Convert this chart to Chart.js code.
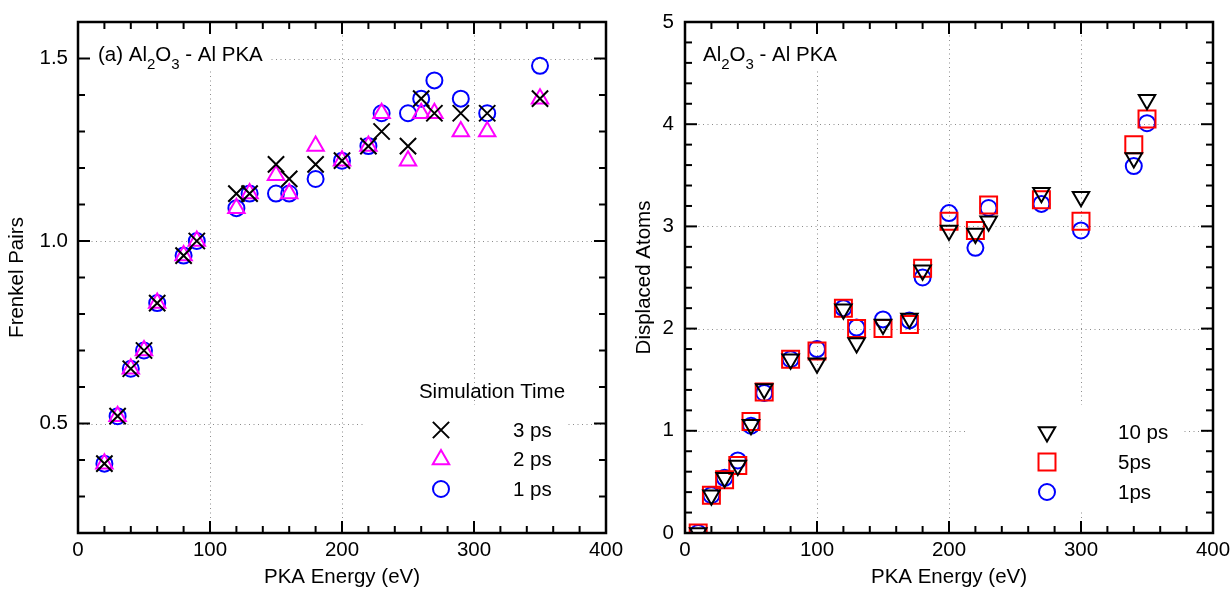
<!DOCTYPE html>
<html>
<head>
<meta charset="utf-8">
<script src="https://cdn.jsdelivr.net/npm/chart.js@4/dist/chart.umd.min.js"></script>
<style>
  body { margin: 0; background: #fff; width: 1231px; height: 591px; overflow: hidden; position: relative; }
  .panel { position: absolute; top: 0; height: 591px; }
</style>
</head>
<body>
<div class="panel" style="left:0;width:660px"><canvas id="chartA"></canvas></div>
<div class="panel" style="left:615px;width:616px"><canvas id="chartB"></canvas></div>
<script>
// ---- left panel: Frenkel pairs vs PKA energy
const energyA = [20, 30, 40, 50, 60, 80, 90, 120, 130, 150, 160, 180, 200, 220, 230, 250, 260, 270, 290, 310, 350];
const frenkel3ps = [0.39, 0.52, 0.65, 0.70, 0.83, 0.96, 1.00, 1.13, 1.13, 1.21, 1.17, 1.21, 1.22, 1.26, 1.30, 1.26, 1.39, 1.35, 1.35, 1.35, 1.39];
const frenkel2ps = [0.39, 0.52, 0.65, 0.70, 0.83, 0.96, 1.00, 1.09, 1.13, 1.18, 1.13, 1.26, 1.22, 1.26, 1.35, 1.22, 1.35, 1.35, 1.30, 1.30, 1.39];
const frenkel1ps = [0.39, 0.52, 0.65, 0.70, 0.83, 0.96, 1.00, 1.09, 1.13, 1.13, 1.13, 1.17, 1.22, 1.26, 1.35, 1.35, 1.39, 1.44, 1.39, 1.35, 1.48];
const yTicksA = [0.5, 1.0, 1.5];

// ---- right panel: displaced atoms vs PKA energy
const energyB = [10, 20, 30, 40, 50, 60, 80, 100, 120, 130, 150, 170, 180, 200, 220, 230, 270, 300, 340, 350];
const displaced10ps = [0.0, 0.37, 0.54, 0.66, 1.06, 1.41, 1.70, 1.66, 2.19, 1.86, 2.04, 2.10, 2.57, 2.96, 2.93, 3.05, 3.33, 3.29, 3.67, 4.24];
const displaced5ps = [0.0, 0.37, 0.52, 0.66, 1.09, 1.38, 1.70, 1.78, 2.20, 2.00, 2.00, 2.04, 2.59, 3.05, 2.96, 3.21, 3.26, 3.05, 3.80, 4.05];
const displaced1ps = [0.0, 0.37, 0.54, 0.71, 1.05, 1.37, 1.70, 1.80, 2.20, 2.01, 2.09, 2.08, 2.50, 3.13, 2.79, 3.18, 3.22, 2.96, 3.59, 4.01];
const yTicksB = [0, 1, 2, 3, 4, 5];

const xTicks = [0, 100, 200, 300, 400];

const FONT = "'Liberation Sans', Arial, sans-serif";
const FS = 20.5;

function pts(xs, ys) {
  return xs.map((x, i) => ({ x: x, y: ys[i] }));
}

function series(label, xs, ys, color, style, radius, rotation) {
  return {
    label: label,
    data: pts(xs, ys),
    pointStyle: style,
    pointRadius: radius,
    pointRotation: rotation || 0,
    borderColor: color,
    backgroundColor: 'rgba(0,0,0,0)',
    pointBorderWidth: 2,
    showLine: false
  };
}

function drawMarker(ctx, ds, x, y) {
  ctx.save();
  ctx.strokeStyle = ds.borderColor;
  ctx.fillStyle = 'rgba(0,0,0,0)';
  ctx.lineWidth = 2;
  if (Chart.helpers && Chart.helpers.drawPoint) {
    Chart.helpers.drawPoint(ctx, { pointStyle: ds.pointStyle, rotation: ds.pointRotation, radius: ds.pointRadius, borderWidth: 2 }, x, y);
  } else {
    ctx.beginPath();
    ctx.arc(x, y, ds.pointRadius, 0, Math.PI * 2);
    ctx.stroke();
  }
  ctx.restore();
}

// text with subscripts, parts = [[text, isSub], ...]
function drawFormula(ctx, parts, x, y) {
  ctx.save();
  ctx.fillStyle = '#000';
  ctx.textBaseline = 'alphabetic';
  ctx.textAlign = 'left';
  parts.forEach(p => {
    ctx.font = (p[1] ? '15px ' : FS + 'px ') + FONT;
    ctx.fillText(p[0], x, p[1] ? y + 8 : y);
    x += ctx.measureText(p[0]).width;
  });
  ctx.restore();
}

function decor(cfg) {
  return {
    id: 'decor',
    beforeDatasetsDraw(chart) {
      const ctx = chart.ctx, a = chart.chartArea, x = chart.scales.x, y = chart.scales.y;
      ctx.save();
      // dotted grid
      ctx.strokeStyle = '#8c8c8c';
      ctx.lineWidth = 1;
      ctx.setLineDash([1, 3.5]);
      cfg.xGrid.forEach(v => {
        const px = Math.round(x.getPixelForValue(v)) + 0.5;
        ctx.beginPath(); ctx.moveTo(px, a.top); ctx.lineTo(px, a.bottom); ctx.stroke();
      });
      cfg.yGrid.forEach(v => {
        const py = Math.round(y.getPixelForValue(v)) + 0.5;
        ctx.beginPath(); ctx.moveTo(a.left, py); ctx.lineTo(a.right, py); ctx.stroke();
      });
      ctx.setLineDash([]);
      // white boxes behind title and legend
      ctx.fillStyle = '#fff';
      cfg.blanks.forEach(b => ctx.fillRect(a.left + b[0], a.top + b[1], b[2] - b[0], b[3] - b[1]));
      ctx.restore();
    },
    afterDatasetsDraw(chart) {
      const ctx = chart.ctx, a = chart.chartArea, x = chart.scales.x, y = chart.scales.y;
      ctx.save();
      ctx.strokeStyle = '#000';
      // inward ticks on all four sides
      ctx.lineWidth = 2;
      const tick = (x1, y1, x2, y2) => { ctx.beginPath(); ctx.moveTo(x1, y1); ctx.lineTo(x2, y2); ctx.stroke(); };
      for (let v = x.min; v <= x.max + 1e-9; v += cfg.xMinor) {
        const px = x.getPixelForValue(v);
        const len = Math.abs(v % cfg.xMajor) < 1e-6 ? 12 : 7;
        tick(px, a.bottom, px, a.bottom - len);
        tick(px, a.top, px, a.top + len);
      }
      const steps = Math.round((y.max - y.min) / cfg.yMinor);
      for (let i = 0; i <= steps; i++) {
        const v = y.min + i * cfg.yMinor;
        const py = y.getPixelForValue(v);
        const r = v / cfg.yMajor;
        const len = Math.abs(r - Math.round(r)) < 1e-6 ? 12 : 7;
        tick(a.left, py, a.left + len, py);
        tick(a.right, py, a.right - len, py);
      }
      // frame
      ctx.lineWidth = 2.5;
      ctx.strokeRect(a.left, a.top, a.right - a.left, a.bottom - a.top);
      ctx.restore();

      // panel title
      drawFormula(ctx, cfg.title, a.left + cfg.titlePos[0], a.top + cfg.titlePos[1]);

      // legend
      const lg = cfg.legend;
      ctx.save();
      ctx.fillStyle = '#000';
      ctx.font = FS + 'px ' + FONT;
      ctx.textBaseline = 'middle';
      if (lg.heading) {
        ctx.textAlign = 'center';
        ctx.fillText(lg.heading, a.left + lg.headingPos[0], a.top + lg.headingPos[1]);
      }
      ctx.textAlign = 'left';
      chart.data.datasets.forEach((ds, i) => {
        const ry = a.top + lg.rowY + i * lg.rowStep;
        drawMarker(ctx, ds, a.left + lg.markerX, ry);
        ctx.fillText(ds.label, a.left + lg.textX, ry + 1);
      });
      ctx.restore();
    }
  };
}

function xScale() {
  return {
    type: 'linear', min: 0, max: 400,
    afterBuildTicks: s => { s.ticks = xTicks.map(v => ({ value: v })); },
    afterFit: s => { s.height = 58; s.paddingLeft = 0; s.paddingRight = 0; },
    grid: { display: false, drawTicks: false },
    border: { display: false },
    ticks: { color: '#000', font: { family: FONT, size: FS }, padding: 5, maxRotation: 0, autoSkip: false },
    title: { display: true, text: 'PKA Energy (eV)', color: '#000', font: { family: FONT, size: FS }, padding: { top: 0, bottom: 1 } }
  };
}

function yScale(min, max, ticks, fmt, width, title, titlePad, labelPad) {
  return {
    type: 'linear', min: min, max: max,
    afterBuildTicks: s => { s.ticks = ticks.map(v => ({ value: v })); },
    afterFit: s => { s.width = width; s.paddingTop = 0; s.paddingBottom = 0; },
    grid: { display: false, drawTicks: false },
    border: { display: false },
    ticks: { color: '#000', font: { family: FONT, size: FS }, padding: labelPad, callback: fmt, autoSkip: false },
    title: { display: true, text: title, color: '#000', font: { family: FONT, size: FS }, padding: { top: titlePad, bottom: 0 } }
  };
}

const common = {
  responsive: true,
  maintainAspectRatio: false,
  animation: false,
  events: [],
  plugins: { legend: { display: false }, tooltip: { enabled: false } }
};

new Chart(document.getElementById('chartA'), {
  type: 'scatter',
  data: {
    datasets: [
      series('3 ps', energyA, frenkel3ps, '#000000', 'crossRot', 11.5),
      series('2 ps', energyA, frenkel2ps, '#ff00ff', 'triangle', 9.5),
      series('1 ps', energyA, frenkel1ps, '#0000ff', 'circle', 8)
    ]
  },
  options: Object.assign({}, common, {
    layout: { padding: { top: 22, right: 54, left: 0, bottom: 0 } },
    scales: {
      x: xScale(),
      y: yScale(0.2, 1.6, yTicksA, v => v.toFixed(1), 78, 'Frenkel Pairs', 5, 10)
    }
  }),
  plugins: [decor({
    xGrid: [100, 200, 300], yGrid: yTicksA,
    xMajor: 100, xMinor: 20, yMajor: 0.5, yMinor: 0.1,
    blanks: [[2, 2, 190, 48], [287, 383, 489, 509]],
    title: [['(a) Al', false], ['2', true], ['O', false], ['3', true], [' - Al PKA', false]],
    titlePos: [20, 39],
    legend: { heading: 'Simulation Time', headingPos: [414, 370], markerX: 363, textX: 435, rowY: 408, rowStep: 29.5 }
  })]
});

new Chart(document.getElementById('chartB'), {
  type: 'scatter',
  data: {
    datasets: [
      series('10 ps', energyB, displaced10ps, '#000000', 'triangle', 9.5, 180),
      series('5ps', energyB, displaced5ps, '#ff0000', 'rect', 12),
      series('1ps', energyB, displaced1ps, '#0000ff', 'circle', 8)
    ]
  },
  options: Object.assign({}, common, {
    layout: { padding: { top: 22, right: 18, left: 0, bottom: 0 } },
    scales: {
      x: xScale(),
      y: yScale(0, 5, yTicksB, v => String(v), 70, 'Displaced Atoms', 17, 11)
    }
  }),
  plugins: [decor({
    xGrid: [100, 200, 300], yGrid: [1, 2, 3, 4],
    xMajor: 100, xMinor: 20, yMajor: 1, yMinor: 0.2,
    blanks: [[2, 2, 165, 48], [280, 383, 497, 490]],
    title: [['Al', false], ['2', true], ['O', false], ['3', true], [' - Al PKA', false]],
    titlePos: [18, 39],
    legend: { heading: '', headingPos: [0, 0], markerX: 362, textX: 433, rowY: 410, rowStep: 30 }
  })]
});
</script>
</body>
</html>
